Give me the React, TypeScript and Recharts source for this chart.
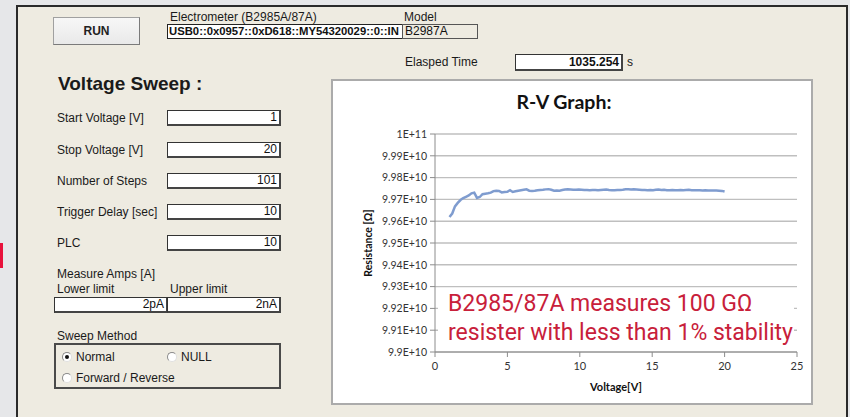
import React from 'react'
import { LineChart, Line, XAxis, YAxis, CartesianGrid, Label } from 'recharts'

// sweep voltages [V] (Start 1 V, Stop 20 V, 101 steps)
const voltages = [
  1, 1.19, 1.38, 1.57, 1.76, 1.95, 2.14, 2.33, 2.52, 2.71,
  2.9, 3.09, 3.28, 3.47, 3.66, 3.85, 4.04, 4.23, 4.42, 4.61,
  4.8, 4.99, 5.18, 5.37, 5.56, 5.75, 5.94, 6.13, 6.32, 6.51,
  6.7, 6.89, 7.08, 7.27, 7.46, 7.65, 7.84, 8.03, 8.22, 8.41,
  8.6, 8.79, 8.98, 9.17, 9.36, 9.55, 9.74, 9.93, 10.12, 10.31,
  10.5, 10.69, 10.88, 11.07, 11.26, 11.45, 11.64, 11.83, 12.02, 12.21,
  12.4, 12.59, 12.78, 12.97, 13.16, 13.35, 13.54, 13.73, 13.92, 14.11,
  14.3, 14.49, 14.68, 14.87, 15.06, 15.25, 15.44, 15.63, 15.82, 16.01,
  16.2, 16.39, 16.58, 16.77, 16.96, 17.15, 17.34, 17.53, 17.72, 17.91,
  18.1, 18.29, 18.48, 18.67, 18.86, 19.05, 19.24, 19.43, 19.62, 19.81,
  20,
]

// measured resistance, in units of 1E+10 ohm
const resistance = [
  9.9619, 9.9635, 9.9668, 9.9684, 9.9697, 9.9706, 9.9712, 9.9718, 9.9728, 9.9731,
  9.9707, 9.9711, 9.9724, 9.9726, 9.9728, 9.9731, 9.9738, 9.974, 9.9739, 9.9732,
  9.9734, 9.9735, 9.9742, 9.9734, 9.9737, 9.974, 9.9742, 9.9744, 9.9746, 9.974,
  9.9739, 9.974, 9.9742, 9.9743, 9.9744, 9.9746, 9.9747, 9.9744, 9.974, 9.9741,
  9.974, 9.9743, 9.9745, 9.9746, 9.9745, 9.9744, 9.9744, 9.9745, 9.9744, 9.9743,
  9.9743, 9.9742, 9.9743, 9.9743, 9.9742, 9.9743, 9.9744, 9.9745, 9.9743, 9.9742,
  9.9742, 9.9743, 9.9743, 9.9744, 9.9746, 9.9746, 9.9745, 9.9746, 9.9745, 9.9744,
  9.9743, 9.9743, 9.9742, 9.9743, 9.9742, 9.9744, 9.9745, 9.9743, 9.9744, 9.9742,
  9.9742, 9.9743, 9.9742, 9.9742, 9.9743, 9.9742, 9.9743, 9.9744, 9.9742, 9.9742,
  9.9742, 9.9742, 9.9741, 9.9742, 9.9741, 9.9741, 9.9741, 9.9741, 9.974, 9.9739,
  9.9736,
]

const xTicks = [0, 5, 10, 15, 20, 25]
const yTicks = [9.9, 9.91, 9.92, 9.93, 9.94, 9.95, 9.96, 9.97, 9.98, 9.99, 10]
const yTickLabels = [
  '9.9E+10', '9.91E+10', '9.92E+10', '9.93E+10', '9.94E+10', '9.95E+10',
  '9.96E+10', '9.97E+10', '9.98E+10', '9.99E+10', '1E+11',
]

const chartData = voltages.map((v, i) => ({ v, r: resistance[i] }))

const UI = "'Liberation Sans', Arial, sans-serif"
const CF = "Lato, 'Open Sans', sans-serif"

const CHART = { left: 331, top: 79, w: 482, h: 326 }
const MARGIN = { top: 55, right: 16, bottom: 0, left: 0 }
const Y_W = 104
const X_H = 53

function Txt({ x, y, size = 12, bold = false, children }: any) {
  return (
    <div
      style={{
        position: 'absolute', left: x, top: y - 9, height: 18, lineHeight: '18px',
        fontSize: size, fontWeight: bold ? 700 : 400, whiteSpace: 'nowrap', color: '#1a1a1a',
      }}
    >
      {children}
    </div>
  )
}

function Field({ x, y, w, h = 16, text, bold = false }: any) {
  return (
    <div
      style={{
        position: 'absolute', left: x, top: y, width: w, height: h, boxSizing: 'border-box',
        background: '#fff', borderTop: '1px solid #333', borderLeft: '1px solid #333',
        borderRight: '2px solid #444', borderBottom: '2px solid #444',
        fontSize: 12, fontWeight: bold ? 700 : 400, textAlign: 'right', paddingRight: 2,
        lineHeight: `${h - 3}px`, color: '#111', overflow: 'hidden', whiteSpace: 'nowrap',
      }}
    >
      {text}
    </div>
  )
}

function Radio({ x, y, checked = false, text }: any) {
  return (
    <>
      <div
        style={{
          position: 'absolute', left: x - 5, top: y - 5, width: 10, height: 10, boxSizing: 'border-box',
          borderRadius: '50%', background: '#fff', border: '1px solid #8a8a8a',
          borderRightColor: '#e0e0e0', borderBottomColor: '#e0e0e0',
        }}
      >
        {checked && (
          <div style={{ position: 'absolute', left: 2, top: 2, width: 4, height: 4, borderRadius: '50%', background: '#111' }} />
        )}
      </div>
      <Txt x={x + 9} y={y}>{text}</Txt>
    </>
  )
}

const fmtY = (v: number) => {
  let best = 0
  yTicks.forEach((t, i) => { if (Math.abs(t - v) < Math.abs(yTicks[best] - v)) best = i })
  return yTickLabels[best]
}

const YTitle = () => {
  const x = 37
  const y = MARGIN.top + (CHART.h - MARGIN.top - MARGIN.bottom - X_H) / 2
  return (
    <text x={x} y={y} transform={`rotate(-90 ${x} ${y})`} textAnchor="middle" dominantBaseline="central"
      fontFamily={CF} fontWeight={700} fontSize={10.5} fill="#111">
      Resistance [Ω]
    </text>
  )
}

const XTitle = () => {
  const x = Y_W + (CHART.w - Y_W - MARGIN.right) / 2
  return (
    <text x={x} y={312} textAnchor="middle" fontFamily={CF} fontWeight={700} fontSize={11} fill="#111">
      Voltage[V]
    </text>
  )
}

export default function App() {
  return (
    <div style={{ position: 'absolute', left: 0, top: 0, width: 850, height: 417, overflow: 'hidden', background: '#e6e7e9', fontFamily: UI }}>
      {/* red marker at left edge */}
      <div style={{ position: 'absolute', left: 0, top: 243, width: 3, height: 25, background: '#e8123c' }} />

      {/* window panel */}
      <div style={{ position: 'absolute', left: 16, top: 5, width: 832, height: 430, boxSizing: 'border-box', background: '#eeebe1', border: '2px solid #2a2a2a' }} />

      {/* RUN button */}
      <div style={{
        position: 'absolute', left: 53, top: 17, width: 87, height: 28, boxSizing: 'border-box',
        background: 'linear-gradient(#f7f7f7, #e9e9e9)', border: '1px solid #a0a0a0',
        borderRightColor: '#7a7a7a', borderBottomColor: '#7a7a7a',
        textAlign: 'center', lineHeight: '26px', fontSize: 12, fontWeight: 700, color: '#222',
      }}>RUN</div>

      <Txt x={170} y={17}>Electrometer (B2985A/87A)</Txt>
      <div style={{
        position: 'absolute', left: 167, top: 24, width: 236, height: 15, boxSizing: 'border-box',
        background: '#fff', border: '1px solid #222', borderRight: 'none', overflow: 'hidden',
        whiteSpace: 'nowrap', fontSize: 11.3, fontWeight: 700, lineHeight: '13px', paddingLeft: 1, color: '#111',
      }}>USB0::0x0957::0xD618::MY54320029::0::IN</div>
      <Txt x={404} y={17}>Model</Txt>
      <div style={{
        position: 'absolute', left: 402, top: 24, width: 76, height: 15, boxSizing: 'border-box',
        border: '1px solid #555', fontSize: 12, lineHeight: '13px', paddingLeft: 2, color: '#111',
      }}>B2987A</div>

      <Txt x={405} y={62}>Elasped Time</Txt>
      <Field x={515} y={54} w={108} h={17} text="1035.254" bold />
      <Txt x={627} y={62}>s</Txt>

      <Txt x={58} y={84} size={19} bold>Voltage Sweep :</Txt>
      <Txt x={57} y={118}>Start Voltage [V]</Txt>
      <Field x={167} y={110} w={114} text="1" />
      <Txt x={57} y={150}>Stop Voltage [V]</Txt>
      <Field x={167} y={142} w={114} text="20" />
      <Txt x={57} y={181}>Number of Steps</Txt>
      <Field x={167} y={173} w={114} text="101" />
      <Txt x={57} y={212}>Trigger Delay [sec]</Txt>
      <Field x={167} y={204} w={114} text="10" />
      <Txt x={57} y={243}>PLC</Txt>
      <Field x={167} y={235} w={114} text="10" />

      <Txt x={57} y={274}>Measure Amps [A]</Txt>
      <Txt x={57} y={289}>Lower limit</Txt>
      <Txt x={170} y={289}>Upper limit</Txt>
      <Field x={54} y={297} w={114} text="2pA" />
      <Field x={167} y={297} w={114} text="2nA" />

      <Txt x={57} y={336}>Sweep Method</Txt>
      <div style={{ position: 'absolute', left: 54, top: 343, width: 227, height: 46, boxSizing: 'border-box', border: '2px solid #4a4a4a' }} />
      <Radio x={67} y={357} checked text="Normal" />
      <Radio x={172} y={357} text="NULL" />
      <Radio x={67} y={378} text="Forward / Reverse" />

      {/* chart area */}
      <div style={{ position: 'absolute', left: CHART.left, top: CHART.top, width: CHART.w, height: CHART.h, boxSizing: 'border-box', background: '#fff', border: '2px solid #ababab' }} />
      <div style={{ position: 'absolute', left: CHART.left, top: 90, width: CHART.w - 16, textAlign: 'center', fontFamily: CF, fontWeight: 700, fontSize: 19.5, color: '#111', lineHeight: '24px' }}>
        R-V Graph:
      </div>
      <div style={{ position: 'absolute', left: CHART.left, top: CHART.top }}>
        <LineChart width={CHART.w} height={CHART.h} data={chartData} margin={MARGIN}>
          <CartesianGrid vertical={false} stroke="#bfbfbf" strokeWidth={1.4} />
          <XAxis
            type="number" dataKey="v" domain={[0, 25]} ticks={xTicks} interval={0} height={X_H}
            tickSize={5} tickMargin={5} stroke="#8c8c8c"
            tick={{ fill: '#333', fontSize: 11, fontFamily: CF }}
          >
            <Label content={XTitle} />
          </XAxis>
          <YAxis
            type="number" domain={[9.9, 10]} ticks={yTicks} interval={0} width={Y_W}
            tickSize={5} tickMargin={3} stroke="#8c8c8c" tickFormatter={fmtY}
            tick={{ fill: '#333', fontSize: 10.5, fontFamily: CF }}
          >
            <Label content={YTitle} />
          </YAxis>
          <Line type="linear" dataKey="r" stroke="#7f9ccf" strokeWidth={2.5} dot={false} isAnimationActive={false} />
        </LineChart>
      </div>

      {/* annotation */}
      <div style={{ position: 'absolute', left: 438, top: 292, width: 356, height: 51, background: '#fff' }} />
      <div style={{ position: 'absolute', left: 448, top: 289, fontFamily: 'Roboto, sans-serif', fontSize: 23, lineHeight: '29px', color: '#c8203a', whiteSpace: 'nowrap' }}>
        B2985/87A measures 100 GΩ<br />resister with less than 1% stability
      </div>
    </div>
  )
}
